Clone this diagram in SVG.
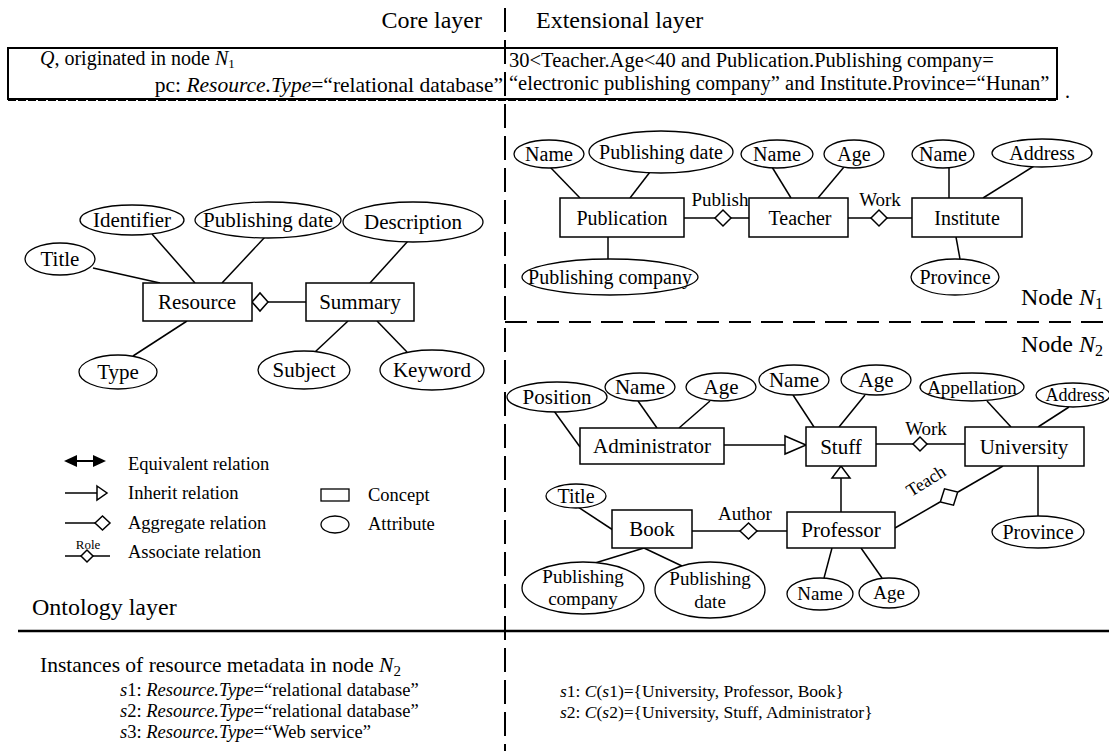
<svg xmlns="http://www.w3.org/2000/svg" width="1109" height="751" viewBox="0 0 1109 751">
<style>
.t{font-family:"Liberation Serif","Times New Roman",serif;fill:#000}
.m{text-anchor:middle}
.i{font-style:italic}
.box{fill:#fff;stroke:#000;stroke-width:1.5}
.ell{fill:#fff;stroke:#000;stroke-width:1.3}
.ln{stroke:#000;stroke-width:1.5;fill:none}
.dia{fill:#fff;stroke:#000;stroke-width:1.5}
.sep{stroke:#000;stroke-width:2;fill:none}
</style>
<rect width="1109" height="751" fill="#fff"/>

<!-- layer separators -->
<g id="layers">
<line class="sep" x1="505" y1="8" x2="505" y2="751" stroke-dasharray="24 8"/>
<line class="sep" x1="505" y1="322" x2="1109" y2="322" stroke-dasharray="22 10"/>
<line x1="18" y1="631" x2="1109" y2="631" stroke="#000" stroke-width="2.5"/>
<text class="t" x="482" y="28" font-size="24" text-anchor="end">Core layer</text>
<text class="t" x="536" y="28" font-size="24">Extensional layer</text>
<text class="t" x="32" y="615" font-size="24">Ontology layer</text>
<text class="t" x="1103" y="305" font-size="24" text-anchor="end">Node <tspan class="i">N</tspan><tspan font-size="16" dy="4">1</tspan></text>
<text class="t" x="1103" y="352" font-size="24" text-anchor="end">Node <tspan class="i">N</tspan><tspan font-size="16" dy="4">2</tspan></text>
</g>

<!-- query box -->
<g id="query">
<rect x="8" y="48" width="1049" height="51" fill="none" stroke="#000" stroke-width="2"/>
<line x1="8" y1="100" x2="1057" y2="100" stroke="#000" stroke-width="2" stroke-dasharray="8 2"/>
<text class="t" x="40" y="65" font-size="20"><tspan class="i">Q</tspan>, originated in node <tspan class="i">N</tspan><tspan font-size="13" dy="3">1</tspan></text>
<text class="t" x="503" y="92" font-size="21.5" text-anchor="end">pc: <tspan class="i">Resource.Type</tspan>=“relational database”</text>
<text class="t" x="509" y="67" font-size="20.5">30&lt;Teacher.Age&lt;40 and Publication.Publishing company=</text>
<text class="t" x="509" y="90" font-size="20.5">“electronic publishing company” and Institute.Province=“Hunan”</text>
<text class="t" x="1065" y="98" font-size="20">.</text>
</g>

<!-- connectors -->
<g id="connectors">
<!-- core -->
<line class="ln" x1="93" y1="268" x2="160" y2="283"/>
<line class="ln" x1="152" y1="234" x2="195" y2="283"/>
<line class="ln" x1="265" y1="237" x2="222" y2="283"/>
<line class="ln" x1="408" y1="241" x2="370" y2="283"/>
<line class="ln" x1="187" y1="321" x2="133" y2="356"/>
<line class="ln" x1="348" y1="321" x2="315" y2="352"/>
<line class="ln" x1="377" y1="321" x2="407" y2="352"/>
<line class="ln" x1="268" y1="302" x2="306" y2="302"/>
<polygon class="dia" points="252,302 260,293 268,302 260,311"/>
<!-- N1 -->
<line class="ln" x1="550" y1="167" x2="580" y2="198"/>
<line class="ln" x1="650" y1="172" x2="630" y2="198"/>
<line class="ln" x1="608" y1="237" x2="608" y2="259"/>
<line class="ln" x1="772" y1="167" x2="791" y2="198"/>
<line class="ln" x1="844" y1="167" x2="818" y2="198"/>
<line class="ln" x1="949" y1="168" x2="949" y2="198"/>
<line class="ln" x1="1034" y1="166" x2="983" y2="198"/>
<line class="ln" x1="956" y1="237" x2="960" y2="259"/>
<line class="ln" x1="684" y1="218" x2="715" y2="218"/>
<line class="ln" x1="731" y1="218" x2="755" y2="218"/>
<polygon class="dia" points="715,218 723,210 731,218 723,226"/>
<line class="ln" x1="848" y1="218" x2="871" y2="218"/>
<line class="ln" x1="887" y1="218" x2="912" y2="218"/>
<polygon class="dia" points="871,218 879,210 887,218 879,226"/>
<text class="t m" x="720" y="206" font-size="19">Publish</text>
<text class="t m" x="880" y="206" font-size="19">Work</text>
<!-- N2 -->
<line class="ln" x1="554" y1="411" x2="580" y2="447"/>
<line class="ln" x1="638" y1="401" x2="657" y2="428"/>
<line class="ln" x1="710" y1="401" x2="679" y2="428"/>
<line class="ln" x1="793" y1="395" x2="814" y2="427"/>
<line class="ln" x1="865" y1="395" x2="839" y2="427"/>
<line class="ln" x1="987" y1="401" x2="1011" y2="427"/>
<line class="ln" x1="1069" y1="407" x2="1038" y2="427"/>
<line class="ln" x1="724" y1="445" x2="785" y2="445"/>
<polygon class="dia" points="785,436 806,445 785,454"/>
<line class="ln" x1="876" y1="444" x2="913" y2="444"/>
<line class="ln" x1="927" y1="444" x2="965" y2="444"/>
<polygon class="dia" points="913,444 920,437 927,444 920,451"/>
<text class="t m" x="926" y="435" font-size="19">Work</text>
<line class="ln" x1="841" y1="512" x2="841" y2="478"/>
<polygon class="dia" points="832,478 850,478 841,466"/>
<line class="ln" x1="578" y1="507" x2="613" y2="530"/>
<line class="ln" x1="644" y1="548" x2="595" y2="563"/>
<line class="ln" x1="644" y1="548" x2="682" y2="566"/>
<line class="ln" x1="692" y1="531" x2="740" y2="531"/>
<line class="ln" x1="757" y1="531" x2="787" y2="531"/>
<polygon class="dia" points="740,531 748.5,523 757,531 748.5,539"/>
<text class="t m" x="745" y="520" font-size="19">Author</text>
<line class="ln" x1="1038" y1="466" x2="1038" y2="516"/>
<line class="ln" x1="832" y1="548" x2="824" y2="578"/>
<line class="ln" x1="861" y1="548" x2="882" y2="578"/>
<line class="ln" x1="895" y1="528" x2="940" y2="502"/>
<line class="ln" x1="958" y1="492" x2="1003" y2="466"/>
<polygon class="dia" points="940.3,502 944.5,488.8 957.7,492 953.5,505.2"/>
<text class="t m" x="929" y="486" font-size="18" transform="rotate(-32 929 486)">Teach</text>
</g>

<!-- core layer nodes -->
<g id="core-Identifier"><ellipse class="ell" cx="132" cy="220" rx="52" ry="15"/><text class="t m" x="132" y="227" font-size="21">Identifier</text></g>
<g id="core-PublishingDate"><ellipse class="ell" cx="268" cy="220" rx="73" ry="18"/><text class="t m" x="268" y="227" font-size="21">Publishing date</text></g>
<g id="core-Description"><ellipse class="ell" cx="413" cy="222" rx="70" ry="20"/><text class="t m" x="413" y="229" font-size="21">Description</text></g>
<g id="core-Title"><ellipse class="ell" cx="60" cy="259" rx="35" ry="16"/><text class="t m" x="60" y="266" font-size="21">Title</text></g>
<g id="core-Resource"><rect class="box" x="143" y="283" width="109" height="38"/><text class="t m" x="197" y="309" font-size="21">Resource</text></g>
<g id="core-Summary"><rect class="box" x="306" y="283" width="108" height="38"/><text class="t m" x="360" y="309" font-size="21">Summary</text></g>
<g id="core-Type"><ellipse class="ell" cx="118" cy="372" rx="39" ry="17"/><text class="t m" x="118" y="379" font-size="21">Type</text></g>
<g id="core-Subject"><ellipse class="ell" cx="304" cy="370" rx="46" ry="19"/><text class="t m" x="304" y="377" font-size="21">Subject</text></g>
<g id="core-Keyword"><ellipse class="ell" cx="432" cy="370" rx="52" ry="20"/><text class="t m" x="432" y="377" font-size="21">Keyword</text></g>

<!-- N1 nodes -->
<g id="n1-Name1"><ellipse class="ell" cx="549" cy="154" rx="35" ry="14"/><text class="t m" x="549" y="161" font-size="20">Name</text></g>
<g id="n1-PublishingDate"><ellipse class="ell" cx="661" cy="152" rx="72" ry="21"/><text class="t m" x="661" y="159" font-size="20">Publishing date</text></g>
<g id="n1-Name2"><ellipse class="ell" cx="777" cy="154" rx="36" ry="14"/><text class="t m" x="777" y="161" font-size="20">Name</text></g>
<g id="n1-Age"><ellipse class="ell" cx="854" cy="154" rx="30" ry="14"/><text class="t m" x="854" y="161" font-size="20">Age</text></g>
<g id="n1-Name3"><ellipse class="ell" cx="943" cy="154" rx="31" ry="14"/><text class="t m" x="943" y="161" font-size="20">Name</text></g>
<g id="n1-Address"><ellipse class="ell" cx="1042" cy="153" rx="50" ry="14"/><text class="t m" x="1042" y="160" font-size="20">Address</text></g>
<g id="n1-Publication"><rect class="box" x="560" y="198" width="124" height="39"/><text class="t m" x="622" y="225" font-size="20">Publication</text></g>
<g id="n1-Teacher"><rect class="box" x="749" y="198" width="99" height="39"/><text class="t m" x="800" y="225" font-size="20">Teacher</text></g>
<g id="n1-Institute"><rect class="box" x="912" y="198" width="110" height="39"/><text class="t m" x="967" y="225" font-size="20">Institute</text></g>
<g id="n1-PublishingCompany"><ellipse class="ell" cx="610" cy="277" rx="88" ry="18"/><text class="t m" x="610" y="284" font-size="20">Publishing company</text></g>
<g id="n1-Province"><ellipse class="ell" cx="955" cy="277" rx="44" ry="18"/><text class="t m" x="955" y="284" font-size="20">Province</text></g>

<!-- N2 nodes -->
<g id="n2-Position"><ellipse class="ell" cx="557" cy="397" rx="50" ry="15"/><text class="t m" x="557" y="404" font-size="21">Position</text></g>
<g id="n2-Name1"><ellipse class="ell" cx="640" cy="387" rx="35" ry="14"/><text class="t m" x="640" y="394" font-size="21">Name</text></g>
<g id="n2-Age1"><ellipse class="ell" cx="721" cy="387" rx="35" ry="14"/><text class="t m" x="721" y="394" font-size="21">Age</text></g>
<g id="n2-Name2"><ellipse class="ell" cx="794" cy="380" rx="35" ry="15"/><text class="t m" x="794" y="387" font-size="21">Name</text></g>
<g id="n2-Age2"><ellipse class="ell" cx="876" cy="380" rx="35" ry="15"/><text class="t m" x="876" y="387" font-size="21">Age</text></g>
<g id="n2-Appellation"><ellipse class="ell" cx="972" cy="387" rx="52" ry="14"/><text class="t m" x="972" y="394" font-size="19">Appellation</text></g>
<g id="n2-Address"><ellipse class="ell" cx="1073" cy="395" rx="37" ry="12"/><text class="t m" x="1075" y="401" font-size="18">Address</text></g>
<g id="n2-Administrator"><rect class="box" x="580" y="428" width="144" height="36"/><text class="t m" x="652" y="453" font-size="21">Administrator</text></g>
<g id="n2-Stuff"><rect class="box" x="806" y="427" width="70" height="39"/><text class="t m" x="841" y="454" font-size="21">Stuff</text></g>
<g id="n2-University"><rect class="box" x="965" y="427" width="119" height="39"/><text class="t m" x="1024" y="454" font-size="21">University</text></g>
<g id="n2-Title"><ellipse class="ell" cx="576" cy="496" rx="30" ry="12"/><text class="t m" x="576" y="503" font-size="20">Title</text></g>
<g id="n2-Book"><rect class="box" x="612" y="510" width="80" height="38"/><text class="t m" x="652" y="536" font-size="21">Book</text></g>
<g id="n2-Professor"><rect class="box" x="787" y="512" width="108" height="36"/><text class="t m" x="841" y="537" font-size="21">Professor</text></g>
<g id="n2-Province"><ellipse class="ell" cx="1038" cy="532" rx="46" ry="16"/><text class="t m" x="1038" y="539" font-size="20">Province</text></g>
<g id="n2-PublishingCompany"><ellipse class="ell" cx="583" cy="588" rx="61" ry="26"/><text class="t m" x="583" y="583" font-size="19">Publishing</text><text class="t m" x="583" y="605" font-size="19">company</text></g>
<g id="n2-PublishingDate"><ellipse class="ell" cx="710" cy="590" rx="55" ry="28"/><text class="t m" x="710" y="585" font-size="19">Publishing</text><text class="t m" x="710" y="608" font-size="19">date</text></g>
<g id="n2-Name3"><ellipse class="ell" cx="820" cy="594" rx="33" ry="16"/><text class="t m" x="820" y="600" font-size="19">Name</text></g>
<g id="n2-Age3"><ellipse class="ell" cx="889" cy="593" rx="30" ry="15"/><text class="t m" x="889" y="599" font-size="19">Age</text></g>

<!-- legend -->
<g id="legend">
<line x1="74" y1="461" x2="96" y2="461" stroke="#000" stroke-width="2"/>
<polygon points="64,461 77,455 77,467" fill="#000"/>
<polygon points="106,461 93,455 93,467" fill="#000"/>
<line class="ln" x1="65" y1="493" x2="97" y2="493"/>
<polygon class="dia" points="97,486 107,493 97,500"/>
<line class="ln" x1="65" y1="523" x2="95" y2="523"/>
<polygon class="dia" points="95,523 102.5,516 110,523 102.5,530"/>
<line class="ln" x1="65" y1="556" x2="110" y2="556"/>
<polygon class="dia" points="81,556 87,550 93,556 87,562"/>
<text class="t m" x="88" y="549" font-size="13">Role</text>
<text class="t" x="128" y="470" font-size="18.5">Equivalent relation</text>
<text class="t" x="128" y="499" font-size="18.5">Inherit relation</text>
<text class="t" x="128" y="529" font-size="18.5">Aggregate relation</text>
<text class="t" x="128" y="558" font-size="18.5">Associate relation</text>
<rect x="321" y="489" width="28" height="12" fill="#fff" stroke="#000" stroke-width="1.3"/>
<ellipse cx="335" cy="524.5" rx="14" ry="8.5" fill="#fff" stroke="#000" stroke-width="1.3"/>
<text class="t" x="368" y="501" font-size="18.5">Concept</text>
<text class="t" x="368" y="530" font-size="18.5">Attribute</text>
</g>

<!-- instances -->
<g id="instances">
<text class="t" x="40" y="672" font-size="21.5">Instances of resource metadata in node <tspan class="i">N</tspan><tspan font-size="15" dy="4">2</tspan></text>
<text class="t" x="120" y="696" font-size="18.5"><tspan class="i">s</tspan>1: <tspan class="i">Resource.Type</tspan>=“relational database”</text>
<text class="t" x="120" y="717" font-size="18.5"><tspan class="i">s</tspan>2: <tspan class="i">Resource.Type</tspan>=“relational database”</text>
<text class="t" x="120" y="738" font-size="18.5"><tspan class="i">s</tspan>3: <tspan class="i">Resource.Type</tspan>=“Web service”</text>
<text class="t" x="560" y="697" font-size="17.5"><tspan class="i">s</tspan>1: <tspan class="i">C</tspan>(<tspan class="i">s</tspan>1)={University, Professor, Book}</text>
<text class="t" x="560" y="718" font-size="17.5"><tspan class="i">s</tspan>2: <tspan class="i">C</tspan>(<tspan class="i">s</tspan>2)={University, Stuff, Administrator}</text>
</g>
</svg>
